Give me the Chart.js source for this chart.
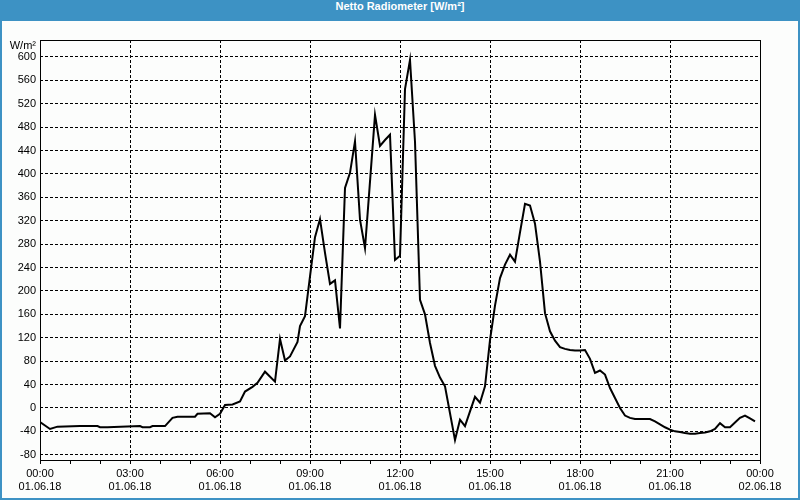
<!DOCTYPE html>
<html>
<head>
<meta charset="utf-8">
<script src="https://cdn.jsdelivr.net/npm/chart.js@4/dist/chart.umd.min.js"></script>
<style>
  html, body { margin: 0; padding: 0; }
  body { width: 800px; height: 500px; position: relative; overflow: hidden; background: #3d92c4; }
  #panel { position: absolute; left: 2px; top: 21px; width: 796px; height: 477px; background: #fcfdfc; }
  #title { position: absolute; left: 0; top: 0; width: 800px; height: 21px; line-height: 20px;
    text-align: center; color: #fff; font: bold 11px "Liberation Sans", Arial, sans-serif; }
  #wrap { position: absolute; left: 0; top: 0; width: 800px; height: 500px; }
</style>
</head>
<body>
<div id="panel"></div>
<div id="title">Netto Radiometer [W/m²]</div>
<div id="wrap"><canvas id="c" width="800" height="500"></canvas></div>
<script>
// minutes since 01.06.18 00:00
var times = [0, 10, 20, 35, 80, 115, 120, 135, 200, 205, 220, 225, 250, 265, 275, 310, 315, 340, 350, 360,
  370, 385, 400, 410, 425, 435, 450, 470, 480, 490, 500, 515, 520, 530, 540, 550, 560, 570, 580, 590,
  600, 610, 620, 630, 640, 650, 660, 670, 680, 690, 700, 710, 720, 730, 740, 750, 760, 770, 780, 790,
  800, 810, 820, 830, 840, 850, 860, 870, 880, 890, 900, 910, 920, 930, 940, 950, 960, 970, 980, 990,
  1000, 1010, 1020, 1030, 1040, 1050, 1060, 1070, 1080, 1090, 1100, 1110, 1120, 1130, 1140, 1150, 1160, 1170, 1180, 1190,
  1200, 1210, 1220, 1230, 1240, 1250, 1260, 1270, 1280, 1290, 1300, 1310, 1320, 1330, 1340, 1350, 1360, 1370, 1380, 1390,
  1400, 1410, 1420, 1430];
var values = [-24, -30, -36, -32, -31, -31, -33, -33, -31, -33, -33, -31, -31, -17, -15, -15, -10, -9, -16, -10,
  5, 6, 11, 28, 36, 43, 62, 45, 118, 81, 88, 113, 140, 157, 225, 292, 323, 265, 212, 218,
  136, 376, 402, 456, 322, 273, 387, 501, 448, 458, 467, 253, 260, 545, 595, 455, 185, 160, 111, 72,
  52, 37, -9, -55, -20, -31, -6, 19, 9, 37, 116, 175, 222, 245, 262, 250, 300, 349, 346, 315,
  250, 162, 131, 115, 104, 101, 99, 98, 98, 99, 84, 60, 64, 57, 34, 17, 0, -13, -17, -19,
  -19, -19, -19, -23, -28, -33, -37, -40, -41, -43, -44, -44, -43, -42, -40, -36, -26, -33, -33, -25,
  -17, -13, -18, -23];

var xTicks = [0, 60, 120, 180, 240, 300, 360, 420, 480, 540, 600, 660, 720, 780, 840, 900, 960, 1020, 1080, 1140, 1200, 1260, 1320, 1380, 1440];
var xLabelDates = ['01.06.18', '02.06.18'];
var yTicks = [-80, -40, 0, 40, 80, 120, 160, 200, 240, 280, 320, 360, 400, 440, 480, 520, 560, 600];
var yUnit = 'W/m²';

var FONT = { family: '"Liberation Sans", Arial, sans-serif', size: 11 };

function pad2(n){ return ('0' + n).slice(-2); }

var pts = times.map(function(t, i){ return { x: t, y: values[i] }; });

var framePlugin = {
  id: 'frame',
  afterDraw: function(chart){
    var a = chart.chartArea, ctx = chart.ctx;
    ctx.save();
    ctx.strokeStyle = '#000';
    ctx.lineWidth = 1;
    ctx.strokeRect(Math.round(a.left) + 0.5, Math.round(a.top) + 0.5, Math.round(a.right - a.left), Math.round(a.bottom - a.top));
    ctx.fillStyle = '#000';
    ctx.font = FONT.size + 'px ' + FONT.family;
    ctx.textAlign = 'right';
    ctx.textBaseline = 'middle';
    ctx.fillText(yUnit, a.left - 4, a.top + 6);
    ctx.restore();
  }
};

new Chart(document.getElementById('c').getContext('2d'), {
  type: 'line',
  data: { datasets: [{ data: pts, borderColor: '#000', borderWidth: 2, pointRadius: 0, tension: 0, fill: false }] },
  options: {
    responsive: false,
    animation: false,
    events: [],
    layout: { padding: { left: 0, top: 40, right: 40, bottom: 0 } },
    plugins: { legend: { display: false }, tooltip: { enabled: false }, title: { display: false } },
    scales: {
      x: {
        type: 'linear', min: 0, max: 1440,
        afterBuildTicks: function(s){ s.ticks = xTicks.map(function(v){ return { value: v }; }); },
        afterFit: function(s){ s.height = 40; },
        border: { display: false, dash: [3, 2] },
        grid: {
          drawOnChartArea: true,
          color: function(c){ var v = c.tick && c.tick.value; return (v % 180 === 0 && v > 0 && v < 1440) ? '#000' : 'rgba(0,0,0,0)'; },
          tickColor: '#000',
          tickLength: 4,
          lineWidth: 1
        },
        ticks: {
          autoSkip: false, maxRotation: 0, padding: 3, color: '#000', font: FONT,
          callback: function(v){
            if (v % 180 !== 0) return '';
            var h = Math.floor(v / 60) % 24;
            return [pad2(h) + ':00', v >= 1440 ? xLabelDates[1] : xLabelDates[0]];
          }
        }
      },
      y: {
        min: -89, max: 629,
        afterBuildTicks: function(s){ s.ticks = yTicks.map(function(v){ return { value: v }; }); },
        afterFit: function(s){ s.width = 40; },
        border: { display: false, dash: [3, 2] },
        grid: { color: '#000', lineWidth: 1, drawTicks: false },
        ticks: { padding: 4, color: '#000', font: FONT }
      }
    }
  },
  plugins: [framePlugin]
});
</script>
</body>
</html>
